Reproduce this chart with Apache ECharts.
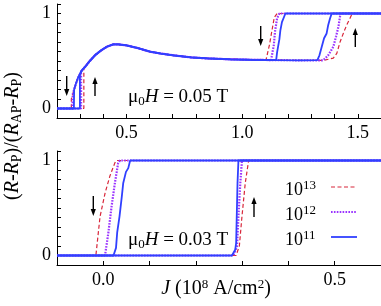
<!DOCTYPE html>
<html><head><meta charset="utf-8">
<script src="https://cdn.jsdelivr.net/npm/echarts@6/dist/echarts.min.js"></script>
<style>html,body{margin:0;padding:0;background:#fff}#c{width:381px;height:306px}</style>
</head><body><div id="c"></div>
<script>
// ---------- DATA ----------
// Top panel (mu0H = 0.05 T): reversible branch shared by all rates
const topCurveJ = [0.262,0.268,0.274,0.283,0.292,0.307,0.322,0.338,0.364,0.39,0.415,0.443,0.465,0.5,0.55,0.602,0.65,0.703,0.779,0.85,0.95,1.05,1.15,1.25,1.35,1.45];
const topCurveR = [0.10,0.15,0.20,0.27,0.33,0.40,0.44,0.49,0.56,0.61,0.65,0.675,0.675,0.665,0.635,0.598,0.578,0.56,0.538,0.527,0.518,0.512,0.509,0.507,0.506,0.506];

// rate 1e13 (red dashed)
const t13DownJ = [1.6,1.151,1.139,1.128,1.118,1.103];
const t13DownR = [1,1,0.96,0.81,0.67,0.51];
const t13DropJ = [0.262,0.262,0.2];
const t13DropR = [0.10,0,0];
const t13RiseJ = [0.2,0.316,0.316];
const t13RiseR = [0,0,0.43];
const t13UpJ = [1.358,1.394,1.409,1.423,1.437,1.452,1.466,1.476,1.6];
const t13UpR = [0.51,0.53,0.58,0.70,0.79,0.88,0.95,1,1];
// rate 1e12 (purple dotted)
const t12DownJ = [1.6,1.161,1.151,1.142,1.137,1.125];
const t12DownR = [1,1,0.95,0.81,0.67,0.51];
const t12DropJ = [0.267,0.267,0.2];
const t12DropR = [0.15,0,0];
const t12RiseJ = [0.2,0.304,0.304];
const t12RiseR = [0,0,0.39];
const t12UpJ = [1.351,1.372,1.394,1.406,1.416,1.423,1.426,1.6];
const t12UpR = [0.51,0.56,0.65,0.76,0.86,0.97,1,1];
// rate 1e11 (blue solid)
const t11DownJ = [1.6,1.187,1.18,1.172,1.165,1.161,1.151,1.147];
const t11DownR = [1,1,0.98,0.91,0.82,0.73,0.59,0.51];
const t11DropJ = [0.273,0.273,0.2];
const t11DropR = [0.20,0,0];
const t11RiseJ = [0.2,0.299,0.299];
const t11RiseR = [0,0,0.36];
const t11UpJ = [1.325,1.334,1.344,1.354,1.365,1.372,1.38,1.387,1.6];
const t11UpR = [0.51,0.56,0.65,0.74,0.79,0.88,0.95,1,1];

// Bottom panel (mu0H = 0.03 T)
const b13DownJ = [0.6,0.028,0.025,0.0145,0.004,-0.007,-0.016,-0.1];
const b13DownR = [1,1,0.975,0.84,0.66,0.41,0,0];
const b13UpJ = [-0.1,0.287,0.294,0.2996,0.3067,0.314,0.6];
const b13UpR = [0,0,0.1,0.41,0.76,1,1];
const b12DownJ = [0.6,0.036,0.032,0.025,0.018,0.011,0.0037,-0.1];
const b12DownR = [1,1,0.97,0.76,0.52,0.24,0,0];
const b12UpJ = [-0.1,0.281,0.289,0.292,0.296,0.2996,0.6];
const b12UpR = [0,0,0.1,0.41,0.76,1,1];
const b11DownJ = [0.6,0.058,0.054,0.049,0.043,0.040,0.035,0.030,0.0275,0.022,-0.1];
const b11DownR = [1,1,0.92,0.88,0.76,0.62,0.41,0.24,0.08,0,0];
const b11UpJ = [-0.1,0.278,0.285,0.287,0.29,0.292,0.6];
const b11UpR = [0,0,0.06,0.13,0.76,1,1];

const rateLabels = ['13','12','11'];
const topTicksJ = [0.5,1.0,1.5];
const botTicksJ = [0.0,0.5];
const yTickVals = [0,1];

// ---------- BUILD ----------
const zip = (a,b) => a.map((v,i)=>[v,b[i]]);
function topDown(dJ,dR,drJ,drR){
  const pts = zip(dJ,dR);
  const last = dJ[dJ.length-1];
  for (let i=topCurveJ.length-1;i>=0;i--) if (topCurveJ[i]<last && topCurveJ[i]>drJ[0]) pts.push([topCurveJ[i],topCurveR[i]]);
  return pts.concat(zip(drJ,drR));
}
function topUp(rJ,rR,uJ,uR){
  const pts = zip(rJ,rR);
  const first = rJ[rJ.length-1];
  for (let i=0;i<topCurveJ.length;i++) if (topCurveJ[i]>first && topCurveJ[i]<uJ[0]) pts.push([topCurveJ[i],topCurveR[i]]);
  return pts.concat(zip(uJ,uR));
}
const FONT = 'Liberation Serif';
const styles = [
  {color:'#d8263a', width:1.2, type:[4,2.5]},
  {color:'#9a33ff', width:2.2, type:[1.6,1.3]},
  {color:'#3040ff', width:1.8, type:'solid'}
];
const topData = [
  [topDown(t13DownJ,t13DownR,t13DropJ,t13DropR), topUp(t13RiseJ,t13RiseR,t13UpJ,t13UpR)],
  [topDown(t12DownJ,t12DownR,t12DropJ,t12DropR), topUp(t12RiseJ,t12RiseR,t12UpJ,t12UpR)],
  [topDown(t11DownJ,t11DownR,t11DropJ,t11DropR), topUp(t11RiseJ,t11RiseR,t11UpJ,t11UpR)]
];
const botData = [
  [zip(b13DownJ,b13DownR), zip(b13UpJ,b13UpR)],
  [zip(b12DownJ,b12DownR), zip(b12UpJ,b12UpR)],
  [zip(b11DownJ,b11DownR), zip(b11UpJ,b11UpR)]
];
const series = [];
[topData, botData].forEach((panel, gi) => {
  panel.forEach((branches, k) => {
    branches.forEach(d => series.push({
      type:'line', xAxisIndex:gi, yAxisIndex:gi, data:d, showSymbol:false, symbol:'none',
      lineStyle:styles[k], z:2+k, animation:false, silent:true
    }));
  });
});
function xAxis(gi,min,max,labels){
  return {type:'value', gridIndex:gi, min, max, interval:0.1,
    axisLine:{onZero:false, lineStyle:{color:'#000', width:1}},
    axisTick:{inside:true, length:4, lineStyle:{color:'#000', width:1}},
    splitLine:{show:false},
    axisLabel:{color:'#000', fontFamily:FONT, fontSize:18, margin:6, customValues:labels,
      showMinLabel:true, showMaxLabel:true, hideOverlap:false,
      rich:{a:{fontFamily:FONT, fontSize:18, color:'#000'}},
      formatter: v => {
        const s = Number(v).toFixed(1);
        return '{a|' + s.slice(0,2) + '}{a|' + s.slice(2) + '}';
      }}
  };
}
function yAxis(gi){
  return {type:'value', gridIndex:gi, min:-0.1, max:1.1, interval:0.1,
    axisLine:{onZero:false, lineStyle:{color:'#000', width:1}},
    axisTick:{inside:true, length:4, lineStyle:{color:'#000', width:1}},
    splitLine:{show:false},
    axisLabel:{color:'#000', fontFamily:FONT, fontSize:18, margin:6, customValues:yTickVals,
      showMinLabel:true, showMaxLabel:true, hideOverlap:false,
      formatter: v => String(Math.round(v))}
  };
}
function mkRich(big, small){
  return {
    n:{fontFamily:FONT, fontSize:big, color:'#000'},
    i:{fontFamily:FONT, fontSize:big, fontStyle:'italic', color:'#000'},
    sub:{fontFamily:FONT, fontSize:small, color:'#000', padding:[Math.round(big*0.45),0,0,0]},
    sup:{fontFamily:FONT, fontSize:small, color:'#000', padding:[0,0,Math.round(big*0.45),0]}
  };
}
function txt(x,y,text,align,rot,big,small){
  return {type:'text', x, y, rotation:rot||0, silent:true,
    style:{text, rich:mkRich(big||18, small||12), align:align||'left', verticalAlign:'middle', fill:'#000'}};
}
function arrow(x, yTail, yTip){
  const dir = yTip < yTail ? -1 : 1;
  return [
    {type:'line', silent:true, shape:{x1:x, y1:yTail, x2:x, y2:yTip - dir*5}, style:{stroke:'#000', lineWidth:1.4}},
    {type:'polygon', silent:true, shape:{points:[[x,yTip],[x-2.6,yTip-dir*7],[x+2.6,yTip-dir*7]]}, style:{fill:'#000'}}
  ];
}
const graphic = [
  txt(13,136,'{n|(}{i|R}{n|-}{i|R}{sub|P}{n|)/(}{i|R}{sub|AP}{n|-}{i|R}{sub|P}{n|)}','center',Math.PI/2,20,14),
  txt(128,97,'{n|μ}{sub|0}{i|H}{n| = 0.05 T}','left',0,19,13),
  txt(128,240,'{n|μ}{sub|0}{i|H}{n| = 0.03 T}','left',0,19,13),
  txt(216,289,'{i|J}{n| (10}{sup|8}{n| A/cm}{sup|2}{n|)}','center',0,20,13)
];
const legY = [187, 212, 237];
rateLabels.forEach((r,k) => {
  graphic.push(txt(285, legY[k]+3, '{n|10}{sup|' + r + '}', 'left', 0, 18, 13));
  graphic.push({type:'line', silent:true, shape:{x1:331,y1:legY[k],x2:357,y2:legY[k]},
    style:{stroke:styles[k].color, lineWidth:styles[k].width, lineDash: styles[k].type==='solid'?null:styles[k].type}});
});
graphic.push(...arrow(66.7,76,96), ...arrow(95,96,77), ...arrow(260.7,26,46), ...arrow(355.3,47,28),
             ...arrow(93.3,196,216), ...arrow(254,217,197));

const chart = echarts.init(document.getElementById('c'), null, {renderer:'canvas'});
chart.setOption({
  animation:false,
  backgroundColor:'#fff',
  grid:[{left:57,right:0,top:4,height:114},{left:57,right:0,top:151,height:114}],
  xAxis:[xAxis(0,0.2,1.6,topTicksJ), xAxis(1,-0.1,0.6,botTicksJ)],
  yAxis:[yAxis(0), yAxis(1)],
  series,
  graphic
});
</script></body></html>
